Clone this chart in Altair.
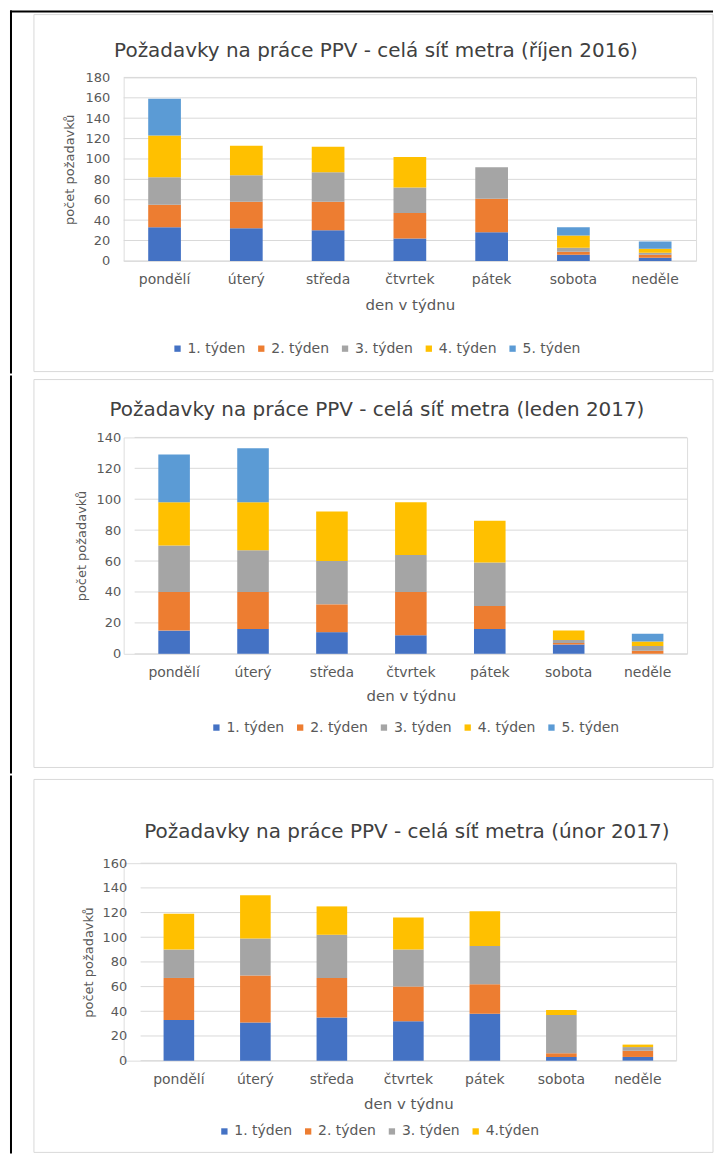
import altair as alt
import pandas as pd

# ---------------- data ----------------
dny = ["pondělí", "úterý", "středa", "čtvrtek", "pátek", "sobota", "neděle"]

tydny5 = ["1. týden", "2. týden", "3. týden", "4. týden", "5. týden"]
tydny4 = ["1. týden", "2. týden", "3. týden", "4.týden"]
barvy = ["#4472C4", "#ED7D31", "#A5A5A5", "#FFC000", "#5B9BD5"]

# říjen 2016
rijen_t1 = [33, 32, 30, 22, 28, 6, 3]
rijen_t2 = [22, 26, 28, 25, 33, 3, 3]
rijen_t3 = [27, 26, 29, 25, 31, 4, 2]
rijen_t4 = [41, 29, 25, 30, 0, 12, 4]
rijen_t5 = [36, 0, 0, 0, 0, 8, 7]

# leden 2017
leden_t1 = [15, 16, 14, 12, 16, 6, 0]
leden_t2 = [25, 24, 18, 28, 15, 1, 2]
leden_t3 = [30, 27, 28, 24, 28, 2, 3]
leden_t4 = [28, 31, 32, 34, 27, 6, 3]
leden_t5 = [31, 35, 0, 0, 0, 0, 5]

# únor 2017
unor_t1 = [33, 31, 35, 32, 38, 3, 3]
unor_t2 = [34, 38, 32, 28, 24, 3, 5]
unor_t3 = [23, 30, 35, 30, 31, 31, 3]
unor_t4 = [29, 35, 23, 26, 28, 4, 2]

# y-axis tick labels
ticks_rijen = [0, 20, 40, 60, 80, 100, 120, 140, 160, 180]
ticks_leden = [0, 20, 40, 60, 80, 100, 120, 140]
ticks_unor = [0, 20, 40, 60, 80, 100, 120, 140, 160]

tituly = [
    "Požadavky na práce PPV - celá síť metra (říjen 2016)",
    "Požadavky na práce PPV - celá síť metra (leden 2017)",
    "Požadavky na práce PPV - celá síť metra (únor 2017)",
]

FONT = "DejaVu Sans"
TXT = "#595959"
GRID = "#D9D9D9"
X0 = 122  # common page x of the plot-group origin (vconcat aligns origins)


def long(lists, labels):
    rows = []
    for k, (lab, vals) in enumerate(zip(labels, lists)):
        for d, v in zip(dny, vals):
            rows.append({"den": d, "tyden": lab, "poradi": k, "pocet": v})
    return pd.DataFrame(rows)


# layout in page pixels: plot=(left, top, right, bottom)
G1 = dict(plot=(122, 75, 696, 259), box=(12, 370), seg=(9, 371), title=(375, 49),
          leg=(169, 347), ytx=68, xty=303)
G2 = dict(plot=(133, 434, 687, 651), box=(376, 765), seg=(373, 770), title=(376, 407),
          leg=(208, 725), ytx=80, xty=693)
G3 = dict(plot=(139, 859, 676, 1057), box=(775, 1149), seg=(772, 1149), title=(406, 828),
          leg=(216, 1128), ytx=87, xty=1100)


def build(df, labels, colors, title, ticks, G, top_line=False):
    PL, T, PR, B = G["plot"]
    W = PR - X0
    H = B - T
    ymax = ticks[-1]

    def rx(px):
        return px - X0

    def ry(py):
        return py - T

    one = alt.Data(values=[{"k": 1}])
    layers = [
        alt.Chart(one).mark_rect(filled=False, stroke=GRID, strokeWidth=1).encode(
            x=alt.value(rx(32)), x2=alt.value(rx(713)),
            y=alt.value(ry(G["box"][0])), y2=alt.value(ry(G["box"][1]))),
        alt.Chart(one).mark_rule(color="black", strokeWidth=2, strokeCap="square").encode(
            x=alt.value(rx(9)), y=alt.value(ry(G["seg"][0])), y2=alt.value(ry(G["seg"][1]))),
        alt.Chart(one).mark_text(font=FONT, fontSize=20, color="#404040",
                                 align="center", baseline="middle").encode(
            text=alt.value(title), x=alt.value(rx(G["title"][0])), y=alt.value(ry(G["title"][1]))),
    ]
    if top_line:
        layers.append(alt.Chart(one).mark_rule(color="black", strokeWidth=2).encode(
            x=alt.value(rx(8)), x2=alt.value(rx(713)), y=alt.value(ry(9))))

    yscale = alt.Scale(domain=[0, ymax], nice=False)
    yaxis = alt.Axis(title="počet požadavků", values=ticks, offset=-(PL - X0),
                     grid=False, domain=False, ticks=False,
                     labelPadding=14, labelFontSize=13, labelFont=FONT, labelColor=TXT,
                     titleFont=FONT, titleFontSize=13, titleFontWeight="normal",
                     titleColor=TXT, titleX=G["ytx"] - PL, titleY=H / 2,
                     titleBaseline="middle", titleAlign="center")
    grid = alt.Chart(pd.DataFrame({"pocet": ticks})).mark_rule(color=GRID, strokeWidth=1).encode(
        y=alt.Y("pocet:Q", scale=yscale, axis=yaxis),
        x=alt.value(rx(PL)), x2=alt.value(rx(PR)),
    )
    layers.append(grid)

    bars = alt.Chart(df).mark_bar().encode(
        x=alt.X("den:N", sort=dny,
                scale=alt.Scale(range=[rx(PL), rx(PR)], paddingInner=0.6, paddingOuter=0.3),
                axis=alt.Axis(title="den v týdnu", labelAngle=0, labelPadding=12,
                              labelFontSize=14, labelFont=FONT, labelColor=TXT,
                              ticks=False, domain=False, grid=False,
                              titleFont=FONT, titleFontSize=15, titleFontWeight="normal",
                              titleColor=TXT, titleX=rx((PL + PR) / 2), titleY=G["xty"] - B,
                              titleBaseline="middle", titleAlign="center")),
        y=alt.Y("pocet:Q", stack="zero", scale=yscale, axis=yaxis),
        color=alt.Color("tyden:N", scale=alt.Scale(domain=labels, range=colors),
                        legend=alt.Legend(orient="none", legendX=rx(G["leg"][0]),
                                          legendY=ry(G["leg"][1]) - 7,
                                          direction="horizontal", title=None,
                                          symbolType="square", symbolSize=40,
                                          symbolStrokeWidth=0, labelFontSize=14,
                                          labelFont=FONT, labelColor=TXT,
                                          columnPadding=9, labelOffset=3, padding=0)),
        order=alt.Order("poradi:Q", sort="ascending"),
    )
    layers.append(bars)
    return alt.layer(*layers).properties(width=W, height=H)


p1 = build(long([rijen_t1, rijen_t2, rijen_t3, rijen_t4, rijen_t5], tydny5),
           tydny5, barvy, tituly[0], ticks_rijen, G1, top_line=True)
p2 = build(long([leden_t1, leden_t2, leden_t3, leden_t4, leden_t5], tydny5),
           tydny5, barvy, tituly[1], ticks_leden, G2)
p3 = build(long([unor_t1, unor_t2, unor_t3, unor_t4], tydny4),
           tydny4, barvy[:4], tituly[2], ticks_unor, G3)

chart = (
    alt.vconcat(p1, p2, p3, spacing=0)
    .resolve_scale(color="independent", x="independent", y="independent")
    .resolve_legend(color="independent")
    .properties(padding=0)
    .configure_view(strokeWidth=0)
    .configure(background="white")
)

chart.save("out.html", embed_options={"renderer": "svg", "actions": False})
